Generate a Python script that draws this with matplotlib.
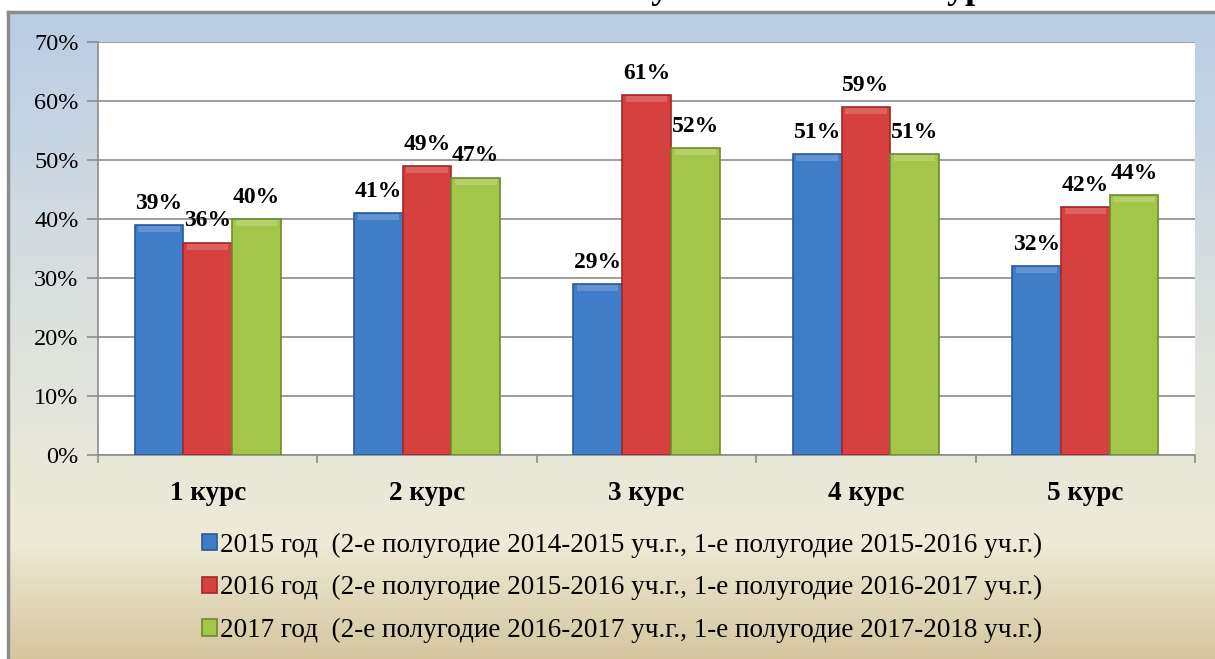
import matplotlib.pyplot as plt
import numpy as np
from matplotlib.colors import LinearSegmentedColormap

plt.rcParams['font.family'] = ['Liberation Serif', 'DejaVu Serif']

categories = ['1 курс', '2 курс', '3 курс', '4 курс', '5 курс']
series_names = [
    '2015 год  (2-е полугодие 2014-2015 уч.г., 1-е полугодие 2015-2016 уч.г.)',
    '2016 год  (2-е полугодие 2015-2016 уч.г., 1-е полугодие 2016-2017 уч.г.)',
    '2017 год  (2-е полугодие 2016-2017 уч.г., 1-е полугодие 2017-2018 уч.г.)',
]
values_2015 = [39, 41, 29, 51, 32]
values_2016 = [36, 49, 61, 59, 42]
values_2017 = [40, 47, 52, 51, 44]
yticks = [0, 10, 20, 30, 40, 50, 60, 70]

colors = ['#3f7dc8', '#d6403e', '#a3c64a']
edges = ['#2a5a96', '#9e2a28', '#6f8a2c']

W, H = 1215, 659
fig = plt.figure(figsize=(W / 100, H / 100), dpi=100)
fig.patch.set_facecolor('white')

# background panel with vertical gradient
bg = fig.add_axes([8 / W, 0, 1 - 8 / W, 1 - 12 / H])
cmap = LinearSegmentedColormap.from_list('bg', [
    (0.0, (0.725, 0.804, 0.898)),
    (0.55, (0.882, 0.894, 0.863)),
    (0.82, (0.933, 0.918, 0.839)),
    (1.0, (0.835, 0.780, 0.620)),
])
bg.imshow(np.linspace(0, 1, 256).reshape(-1, 1), aspect='auto', cmap=cmap,
          extent=[0, 1, 0, 1])
bg.set_xticks([])
bg.set_yticks([])
for s in ['right', 'bottom']:
    bg.spines[s].set_visible(False)
for s in ['left', 'top']:
    bg.spines[s].set_color('#8c8c8c')
    bg.spines[s].set_linewidth(2.5)

# title, cut off by the top edge as in the original
fig.text(0.6, 1 - 6 / H, 'Качественная успеваемость по курсам', ha='center',
         va='bottom', fontsize=26, fontweight='bold', color='black')

ax = fig.add_axes([98 / W, 1 - 455 / H, (1195 - 98) / W, (455 - 42) / H])
ax.set_facecolor('white')

x = np.arange(len(categories))
bw = 0.222
for i, vals in enumerate([values_2015, values_2016, values_2017]):
    pos = x + (i - 1) * bw
    ax.bar(pos, vals, bw, color=colors[i], edgecolor=edges[i],
           linewidth=1.2, label=series_names[i], zorder=3)
    # lighter bevel at the top of each bar
    ax.bar(pos, [1.0] * len(vals), bw * 0.85, bottom=[v - 1.2 for v in vals],
           color='white', alpha=0.18, linewidth=0, zorder=4)
    for p, v in zip(pos, vals):
        ax.text(p, v + 1.9, f'{v}%', ha='center', va='bottom', fontsize=17,
                fontweight='bold', zorder=5)

ax.set_xlim(-0.5, len(categories) - 0.5)
ax.set_ylim(0, 70)
ax.set_yticks(yticks)
ax.set_yticklabels([f'{t}%' for t in yticks], fontsize=17.5)
ax.yaxis.grid(True, color='#8c8c8c', linewidth=1.2, zorder=0)
ax.set_axisbelow(True)
ax.set_xticks(x)
ax.set_xticklabels(categories, fontsize=19.5, fontweight='bold')
ax.set_xticks(np.arange(len(categories) + 1) - 0.5, minor=True)
ax.tick_params(axis='x', which='major', length=0, pad=19)
ax.tick_params(axis='x', which='minor', length=6, color='#8c8c8c', width=1.2)
ax.tick_params(axis='y', length=8, color='#8c8c8c', width=1.2, pad=6)
for s in ['top', 'right']:
    ax.spines[s].set_visible(False)
for s in ['left', 'bottom']:
    ax.spines[s].set_color('#8c8c8c')
    ax.spines[s].set_linewidth(1.2)

handles, labels = ax.get_legend_handles_labels()
leg = fig.legend(handles, labels, loc='upper center',
                 bbox_to_anchor=(622 / W, 1 - 508 / H), ncol=1, frameon=False,
                 fontsize=19.5, handlelength=0.55, handleheight=0.55,
                 handletextpad=0.1, labelspacing=0.65)

fig.savefig('out.png', dpi=100)
